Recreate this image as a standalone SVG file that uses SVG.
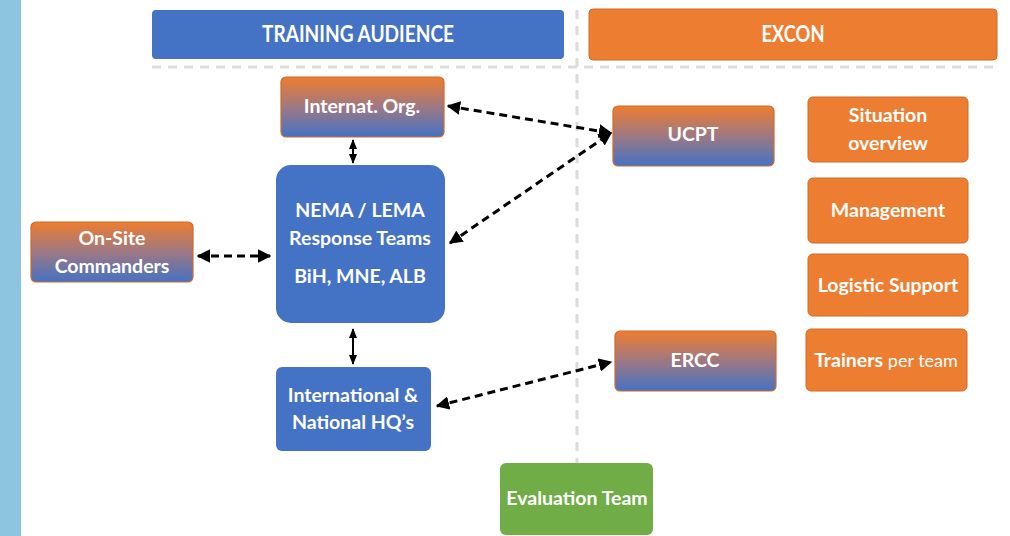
<svg xmlns="http://www.w3.org/2000/svg" width="1010" height="536" viewBox="0 0 1010 536">
<defs>
<linearGradient id="og" x1="0" y1="0" x2="0" y2="1">
<stop offset="0" stop-color="#ED7D31"/>
<stop offset="0.5" stop-color="#9E7883"/>
<stop offset="1" stop-color="#4472C4"/>
</linearGradient>
<marker id="ah" viewBox="0 0 10 10" refX="9" refY="5" markerWidth="4.5" markerHeight="4.5" orient="auto-start-reverse">
<path d="M0,0 L10,5 L0,10 z" fill="#000"/>
</marker>
<marker id="sh" viewBox="0 0 10 10" refX="9" refY="5" markerWidth="5" markerHeight="5" orient="auto-start-reverse">
<path d="M0,1 L10,5 L0,9 z" fill="#000"/>
</marker>
</defs>
<style>
text{font-family:Lato,"Open Sans","Liberation Sans",sans-serif;font-weight:bold;fill:#fff;text-anchor:middle}
.t{font-size:19.5px}
.h{font-size:23px;font-weight:bold}
.blue{fill:#4472C4}
.orange{fill:#ED7D31;stroke:#D06A28;stroke-width:1}
.grad{fill:url(#og);stroke:#D06A28;stroke-width:1.2}
.dash{stroke:#000;stroke-width:3;stroke-dasharray:8 5;fill:none}
.solid{stroke:#000;stroke-width:2;fill:none}
.guide{stroke:#DCDCDC;stroke-width:3;stroke-dasharray:9 7;fill:none}
</style>
<rect width="1010" height="536" fill="#fff"/>
<rect x="0" y="0" width="21" height="536" fill="#8DC4DF"/>
<g id="guides">
<line class="guide" x1="152" y1="67" x2="998" y2="67"/>
<line class="guide" x1="577" y1="10" x2="577" y2="470"/>
</g>
<g id="training-audience"><rect class="blue" x="152" y="10" width="412" height="49" rx="4"/><text class="h" x="358" y="42" textLength="192" lengthAdjust="spacingAndGlyphs">TRAINING AUDIENCE</text></g>
<g id="excon"><rect class="orange" x="589" y="9" width="408" height="51" rx="4"/><text class="h" x="793" y="42" textLength="63" lengthAdjust="spacingAndGlyphs">EXCON</text></g>
<g id="internat-org"><rect class="grad" x="281" y="77" width="163" height="60" rx="5"/><text class="t" x="362" y="113">Internat. Org.</text></g>
<g id="nema"><rect class="blue" x="276" y="165" width="169" height="158" rx="15"/><text class="t" x="360" y="217">NEMA / LEMA</text><text class="t" x="360" y="245">Response Teams</text><text class="t" x="360" y="283">BiH, MNE, ALB</text></g>
<g id="onsite"><rect class="grad" x="31" y="222" width="162" height="60" rx="5"/><text class="t" x="112" y="245">On-Site</text><text class="t" x="112" y="273">Commanders</text></g>
<g id="hq"><rect class="blue" x="276" y="367" width="155" height="84" rx="6"/><text class="t" x="353" y="402">International &amp;</text><text class="t" x="353" y="429">National HQ’s</text></g>
<g id="ucpt"><rect class="grad" x="613" y="106" width="161" height="60" rx="5"/><text class="t" x="693" y="141">UCPT</text></g>
<g id="ercc"><rect class="grad" x="615" y="331" width="161" height="60" rx="5"/><text class="t" x="695" y="367">ERCC</text></g>
<g id="situation"><rect class="orange" x="808" y="97" width="160" height="65" rx="5"/><text class="t" x="888" y="122">Situation</text><text class="t" x="888" y="150">overview</text></g>
<g id="management"><rect class="orange" x="808" y="178" width="160" height="65" rx="5"/><text class="t" x="888" y="217">Management</text></g>
<g id="logistic"><rect class="orange" x="808" y="254" width="160" height="62" rx="5"/><text class="t" x="888" y="292">Logistic Support</text></g>
<g id="trainers"><rect class="orange" x="806" y="329" width="161" height="62" rx="5"/><text class="t" x="886" y="367">Trainers <tspan style="font-weight:normal;font-size:18px">per team</tspan></text></g>
<g id="evaluation"><rect x="500" y="463" width="153" height="72" rx="6" fill="#70AD47"/><text class="t" x="577" y="505">Evaluation Team</text></g>
<g id="connectors">
<line class="dash" x1="448" y1="106" x2="611" y2="133" marker-start="url(#ah)" marker-end="url(#ah)"/>
<line class="dash" x1="450" y1="243" x2="611" y2="133" marker-start="url(#ah)" marker-end="url(#ah)"/>
<line class="dash" x1="198" y1="256" x2="270" y2="256" marker-start="url(#ah)" marker-end="url(#ah)"/>
<line class="dash" x1="437" y1="406" x2="611" y2="362" marker-start="url(#ah)" marker-end="url(#ah)"/>
<line class="solid" x1="353" y1="140" x2="353" y2="163" marker-start="url(#sh)" marker-end="url(#sh)"/>
<line class="solid" x1="353" y1="329" x2="353" y2="364" marker-start="url(#sh)" marker-end="url(#sh)"/>
</g>
</svg>
